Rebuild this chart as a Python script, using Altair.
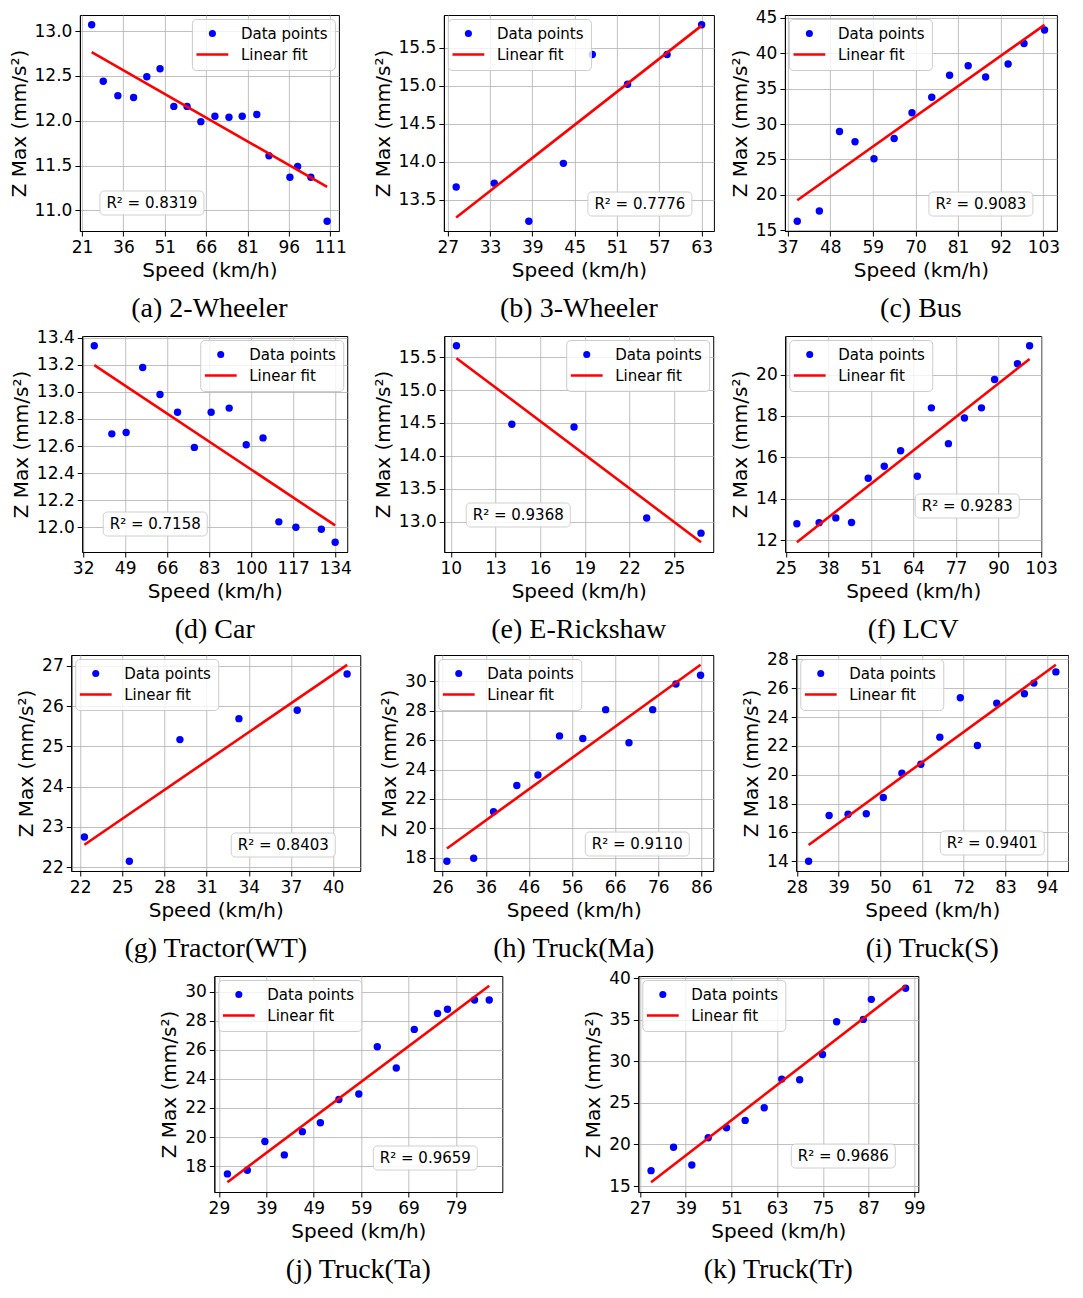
import altair as alt
import numpy as np
import pandas as pd

captions = ["(a) 2-Wheeler", "(b) 3-Wheeler", "(c) Bus", "(d) Car", "(e) E-Rickshaw", "(f) LCV",
            "(g) Tractor(WT)", "(h) Truck(Ma)", "(i) Truck(S)", "(j) Truck(Ta)", "(k) Truck(Tr)"]

r2_values = ["0.8319", "0.7776", "0.9083", "0.7158", "0.9368", "0.9283",
             "0.8403", "0.9110", "0.9401", "0.9659", "0.9686"]

speed_a = [24.5, 28.7, 34.0, 39.7, 44.5, 49.3, 54.3, 59.1, 64.1, 69.2, 74.3, 79.1, 84.4, 88.8, 96.4, 99.2, 104.0, 109.9]
zmax_a = [13.07, 12.44, 12.28, 12.26, 12.49, 12.58, 12.16, 12.16, 11.99, 12.05, 12.04, 12.05, 12.07, 11.61, 11.37, 11.49, 11.37, 10.88]

speed_b = [28.2, 33.6, 38.5, 43.4, 47.5, 52.5, 58.1, 63.0]
zmax_b = [13.67, 13.72, 13.22, 13.98, 15.41, 15.02, 15.41, 15.80]

speed_c = [39.5, 45.2, 50.4, 54.4, 59.3, 64.5, 69.1, 74.2, 78.8, 83.6, 88.1, 93.9, 98.0, 103.3]
zmax_c = [16.27, 17.7, 28.96, 27.5, 25.1, 27.97, 31.6, 33.8, 36.9, 38.25, 36.65, 38.5, 41.4, 43.3]

speed_d = [36.5, 43.6, 49.4, 56.1, 63.1, 70.2, 77.0, 83.8, 91.1, 98.0, 104.8, 111.2, 118.1, 128.4, 134.0]
zmax_d = [13.34, 12.69, 12.70, 13.18, 12.98, 12.85, 12.59, 12.85, 12.88, 12.61, 12.66, 12.04, 12.00, 11.985, 11.89]

speed_e = [10.38, 14.1, 18.28, 23.16, 26.81]
zmax_e = [15.67, 14.48, 14.44, 13.06, 12.83]

speed_f = [28.4, 35.2, 40.3, 45.1, 50.2, 55.1, 60.1, 65.2, 69.5, 74.7, 79.6, 84.8, 88.8, 95.8, 99.5]
zmax_f = [12.79, 12.84, 13.07, 12.85, 14.99, 15.57, 16.32, 15.08, 18.39, 16.66, 17.90, 18.39, 19.76, 20.52, 21.39]

speed_g = [22.3, 25.5, 29.1, 33.3, 37.45, 41.0]
zmax_g = [22.75, 22.15, 25.17, 25.69, 25.9, 26.8]

speed_h = [27.0, 33.2, 37.8, 43.2, 48.1, 53.1, 58.5, 63.8, 69.2, 74.7, 80.1, 85.8]
zmax_h = [17.78, 17.98, 21.14, 22.92, 23.63, 26.28, 26.1, 28.06, 25.81, 28.06, 29.8, 30.4]

speed_i = [31.1, 36.5, 41.5, 46.3, 50.8, 55.7, 60.7, 65.7, 71.1, 75.6, 80.7, 88.0, 90.5, 96.3]
zmax_i = [14.0, 17.17, 17.26, 17.29, 18.42, 20.11, 20.73, 22.61, 25.34, 22.03, 24.97, 25.62, 26.36, 27.14]

speed_j = [30.8, 35.0, 38.7, 42.8, 46.6, 50.4, 54.3, 58.5, 62.4, 66.4, 70.2, 75.1, 77.2, 82.9, 86.0]
zmax_j = [17.46, 17.71, 19.69, 18.77, 20.37, 20.98, 22.58, 22.96, 26.21, 24.75, 27.41, 28.51, 28.8, 29.44, 29.44]

speed_k = [29.9, 35.8, 40.6, 44.9, 49.7, 54.6, 59.6, 64.2, 68.9, 74.9, 78.6, 85.6, 87.7, 96.7]
zmax_k = [16.85, 19.66, 17.53, 20.82, 22.02, 22.9, 24.42, 27.87, 27.79, 30.84, 34.78, 35.06, 37.47, 38.8]

xticks = [
    [21, 36, 51, 66, 81, 96, 111],
    [27, 33, 39, 45, 51, 57, 63],
    [37, 48, 59, 70, 81, 92, 103],
    [32, 49, 66, 83, 100, 117, 134],
    [10, 13, 16, 19, 22, 25],
    [25, 38, 51, 64, 77, 90, 103],
    [22, 25, 28, 31, 34, 37, 40],
    [26, 36, 46, 56, 66, 76, 86],
    [28, 39, 50, 61, 72, 83, 94],
    [29, 39, 49, 59, 69, 79],
    [27, 39, 51, 63, 75, 87, 99],
]
yticks = [
    [11.0, 11.5, 12.0, 12.5, 13.0],
    [13.5, 14.0, 14.5, 15.0, 15.5],
    [15, 20, 25, 30, 35, 40, 45],
    [12.0, 12.2, 12.4, 12.6, 12.8, 13.0, 13.2, 13.4],
    [13.0, 13.5, 14.0, 14.5, 15.0, 15.5],
    [12, 14, 16, 18, 20],
    [22, 23, 24, 25, 26, 27],
    [18, 20, 22, 24, 26, 28, 30],
    [14, 16, 18, 20, 22, 24, 26, 28],
    [18, 20, 22, 24, 26, 28, 30],
    [15, 20, 25, 30, 35, 40],
]
yformats = [".1f", ".1f", "d", ".1f", ".1f", "d", "d", "d", "d", "d", "d"]

# layout: width, legend orient, R2 box corner, horizontal gap, bottom gap
layouts = [
    (259, "top-right", "left", 20, 16),
    (270, "top-left", "right", 22, 15),
    (272, "top-left", "right", 24, 15),
    (265, "top-right", "left", 21, 16),
    (269, "top-right", "left", 22, 25),
    (256, "top-left", "right", 22, 34),
    (289, "top-left", "right", 25, 14),
    (279, "top-left", "right", 24, 15),
    (272, "top-left", "right", 24, 16),
    (288, "top-left", "right", 25, 22),
    (280, "top-left", "right", 23, 24),
]

H = 216
BOX_W, BOX_H = 104, 24
LINE_SHAPE = "M-4.5,-0.36H4.5V0.36H-4.5Z"


def panel(speed, zmax, idx):
    w, lorient, corner, gx, gy = layouts[idx]
    xs = np.array(speed, dtype=float)
    ys = np.array(zmax, dtype=float)
    k, b = np.polyfit(xs, ys, 1)
    xr = xs.max() - xs.min()
    xdom = [xs.min() - 0.05 * xr, xs.max() + 0.05 * xr]
    yall = np.concatenate([ys, [k * xs.min() + b, k * xs.max() + b]])
    yr = yall.max() - yall.min()
    ydom = [yall.min() - 0.05 * yr, yall.max() + 0.05 * yr]
    xt = [v for v in xticks[idx] if xdom[0] <= v <= xdom[1]]
    yt = [v for v in yticks[idx] if ydom[0] <= v <= ydom[1]]

    df = pd.DataFrame({"speed": speed, "zmax": zmax, "series": ["Data points"] * len(speed)})
    xenc = alt.X("speed:Q", scale=alt.Scale(domain=xdom, nice=False, zero=False),
                 axis=alt.Axis(values=xt, format="d", title="Speed (km/h)"))
    yenc = alt.Y("zmax:Q", scale=alt.Scale(domain=ydom, nice=False, zero=False),
                 axis=alt.Axis(values=yt, format=yformats[idx], title="Z Max (mm/s²)"))
    legend = alt.Legend(title=None, orient=lorient)
    pts = alt.Chart(df).mark_point(filled=True, size=55, opacity=1).encode(
        x=xenc, y=yenc,
        color=alt.Color("series:N", scale=alt.Scale(domain=["Data points", "Linear fit"], range=["blue", "red"]),
                        legend=legend),
        shape=alt.Shape("series:N", scale=alt.Scale(domain=["Data points", "Linear fit"], range=["circle", LINE_SHAPE]),
                        legend=legend),
    )
    fit = alt.Chart(df).transform_regression("speed", "zmax").mark_line(color="red", strokeWidth=2.6).encode(
        x=xenc, y=yenc)

    if corner == "left":
        x0 = gx
    else:
        x0 = w - gx - BOX_W
    y1 = H - gy
    y0 = y1 - BOX_H
    lab = pd.DataFrame({"label": ["R² = " + r2_values[idx]]})
    box = alt.Chart(lab).mark_rect(fill="white", stroke="#cccccc", strokeWidth=1, cornerRadius=4, opacity=0.9).encode(
        x=alt.value(x0), x2=alt.value(x0 + BOX_W), y=alt.value(y0), y2=alt.value(y1))
    txt = alt.Chart(lab).mark_text(font="DejaVu Sans", fontSize=15, align="center", baseline="middle", color="black").encode(
        x=alt.value(x0 + BOX_W / 2), y=alt.value((y0 + y1) / 2), text="label:N")

    return alt.layer(pts, fit, box, txt).properties(
        width=w, height=H,
        title=alt.TitleParams(text=captions[idx], orient="bottom", font="Liberation Serif", fontSize=28,
                              fontWeight="normal", color="black", offset=15))


all_speed = [speed_a, speed_b, speed_c, speed_d, speed_e, speed_f, speed_g, speed_h, speed_i, speed_j, speed_k]
all_zmax = [zmax_a, zmax_b, zmax_c, zmax_d, zmax_e, zmax_f, zmax_g, zmax_h, zmax_i, zmax_j, zmax_k]
panels = [panel(all_speed[i], all_zmax[i], i) for i in range(11)]


def indep(c):
    return c.resolve_scale(color="independent", shape="independent").resolve_legend(
        color="independent", shape="independent")


def row3(items, s1, s2):
    return indep(alt.hconcat(indep(alt.hconcat(items[0], items[1], spacing=s1)), items[2], spacing=s2))


last_row = indep(alt.hconcat(panels[9], panels[10], spacing=79))

chart = indep(alt.vconcat(
    row3(panels[0:3], 25, 14), row3(panels[3:6], 20, 15), row3(panels[6:9], 17, 26), last_row,
    spacing=4, center=True
)).properties(padding=0).configure_axis(
    labelFont="DejaVu Sans", labelFontSize=17, labelColor="black",
    titleFont="DejaVu Sans", titleFontSize=20, titleFontWeight="normal", titleColor="black",
    gridColor="#b0b0b0", gridWidth=0.8, domainColor="black", domainWidth=1,
    tickColor="black", tickSize=5, tickWidth=1, labelPadding=3, titlePadding=5,
    labelFlush=False, labelOverlap=False
).configure_view(stroke="black", strokeWidth=1).configure_legend(
    labelFont="DejaVu Sans", labelFontSize=15, labelColor="black", symbolSize=50,
    padding=7, symbolOffset=6, labelOffset=21, rowPadding=5,
    fillColor="rgba(255,255,255,0.8)", strokeColor="#cccccc", cornerRadius=4, offset=4
)

chart.save("out.html", embed_options={"renderer": "svg", "actions": False})
